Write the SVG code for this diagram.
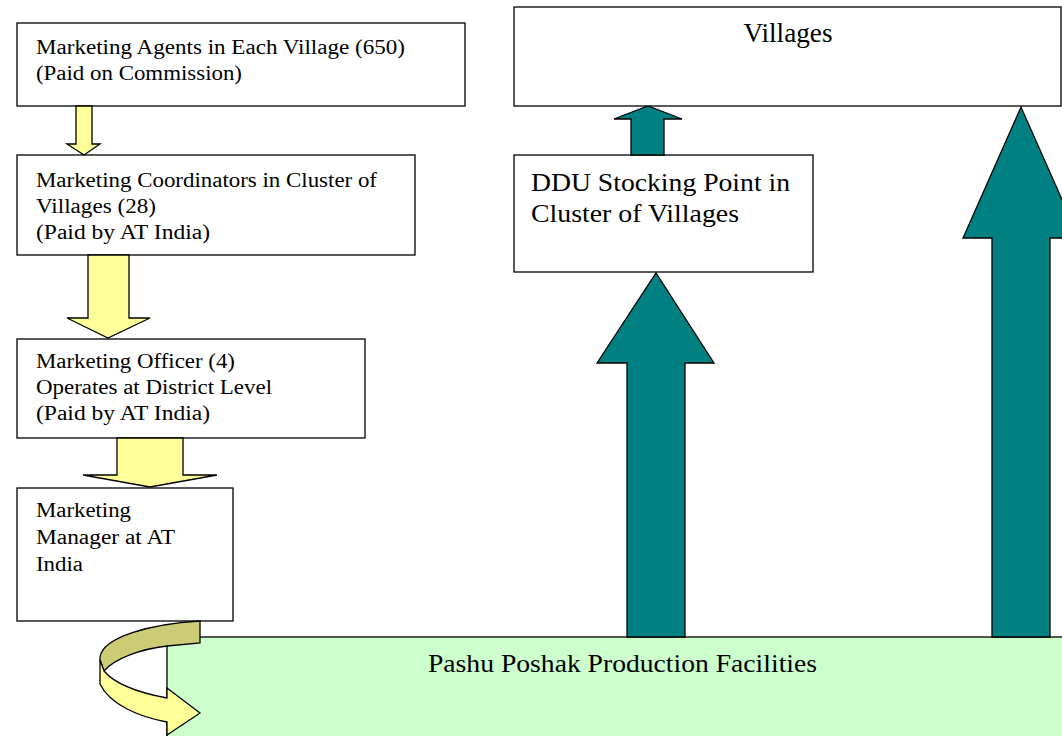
<svg xmlns="http://www.w3.org/2000/svg" width="1062" height="736" viewBox="0 0 1062 736" font-family="'Liberation Serif', 'Times New Roman', 'DejaVu Serif', serif">
<style>
.box{fill:#fff;stroke:#000;stroke-width:1.3}
.green{fill:#ccffcc;stroke:#000;stroke-width:1.3}
.ya{fill:#ffff99;stroke:#000;stroke-width:1.3;stroke-linejoin:miter}
.yd{fill:#cccc77;stroke:#000;stroke-width:1.3}
.ta{fill:#008080;stroke:#000;stroke-width:1.3}
text{fill:#000}
.s{font-size:20px}
.b{font-size:25px}
</style>
<rect width="1062" height="736" fill="#fff"/>
<g id="production">
<rect class="green" x="167" y="637" width="900" height="110"/>
<text class="b" x="622.5" y="672" text-anchor="middle" textLength="389" lengthAdjust="spacingAndGlyphs">Pashu Poshak Production Facilities</text>
</g>
<g id="agents">
<rect class="box" x="17" y="23" width="448" height="83"/>
<text class="s" x="36" y="54" textLength="369" lengthAdjust="spacingAndGlyphs">Marketing Agents in Each Village (650)</text>
<text class="s" x="36" y="80" textLength="206" lengthAdjust="spacingAndGlyphs">(Paid on Commission)</text>
</g>
<g id="coordinators">
<rect class="box" x="17" y="155" width="398" height="100"/>
<text class="s" x="36" y="187" textLength="341" lengthAdjust="spacingAndGlyphs">Marketing Coordinators in Cluster of</text>
<text class="s" x="36" y="213" textLength="120" lengthAdjust="spacingAndGlyphs">Villages (28)</text>
<text class="s" x="36" y="239" textLength="174" lengthAdjust="spacingAndGlyphs">(Paid by AT India)</text>
</g>
<g id="officer">
<rect class="box" x="17" y="339" width="348" height="99"/>
<text class="s" x="36" y="368" textLength="199" lengthAdjust="spacingAndGlyphs">Marketing Officer (4)</text>
<text class="s" x="36" y="394" textLength="236" lengthAdjust="spacingAndGlyphs">Operates at District Level</text>
<text class="s" x="36" y="420" textLength="174" lengthAdjust="spacingAndGlyphs">(Paid by AT India)</text>
</g>
<g id="manager">
<rect class="box" x="17" y="488" width="216" height="133"/>
<text class="s" x="36" y="517" textLength="95" lengthAdjust="spacingAndGlyphs">Marketing</text>
<text class="s" x="36" y="544" textLength="139" lengthAdjust="spacingAndGlyphs">Manager at AT</text>
<text class="s" x="36" y="571" textLength="47" lengthAdjust="spacingAndGlyphs">India</text>
</g>
<g id="villages">
<rect class="box" x="514" y="7" width="547" height="99"/>
<text x="788" y="42" font-size="27" text-anchor="middle" textLength="89" lengthAdjust="spacingAndGlyphs">Villages</text>
</g>
<g id="ddu">
<rect class="box" x="514" y="155" width="299" height="117"/>
<text class="b" x="531" y="191" textLength="259" lengthAdjust="spacingAndGlyphs">DDU Stocking Point in</text>
<text class="b" x="531" y="222" textLength="208" lengthAdjust="spacingAndGlyphs">Cluster of Villages</text>
</g>
<g id="connectors">
<polygon class="ya" points="76,106 92,106 92,144 100,144 84,155 67,144 76,144"/>
<polygon class="ya" points="88,255 129,255 129,318 150,318 108,338 67,318 88,318"/>
<polygon class="ya" points="117,438 183,438 183,475 217,475 150,487 83,475 117,475"/>
<path class="yd" d="M200,621 C150,624 103,637 100,657 L100,660 L104,671 C114,659 140,649 167,646 L200,643 Z"/>
<path class="ya" d="M100,660 L100,684 C110,705 140,717 167,722 L167,735 L200,713 L167,688 L167,698 C140,693 115,684 104,671 Z"/>
<polygon class="ta" points="631,155 664,155 664,119 682,119 648,106 614,119 631,119"/>
<polygon class="ta" points="627,637 685,637 685,363 714,363 656,273 597,363 627,363"/>
<polygon class="ta" points="992,637 1050,637 1050,238 1079,238 1021,107 963,238 992,238"/>
</g>
</svg>
